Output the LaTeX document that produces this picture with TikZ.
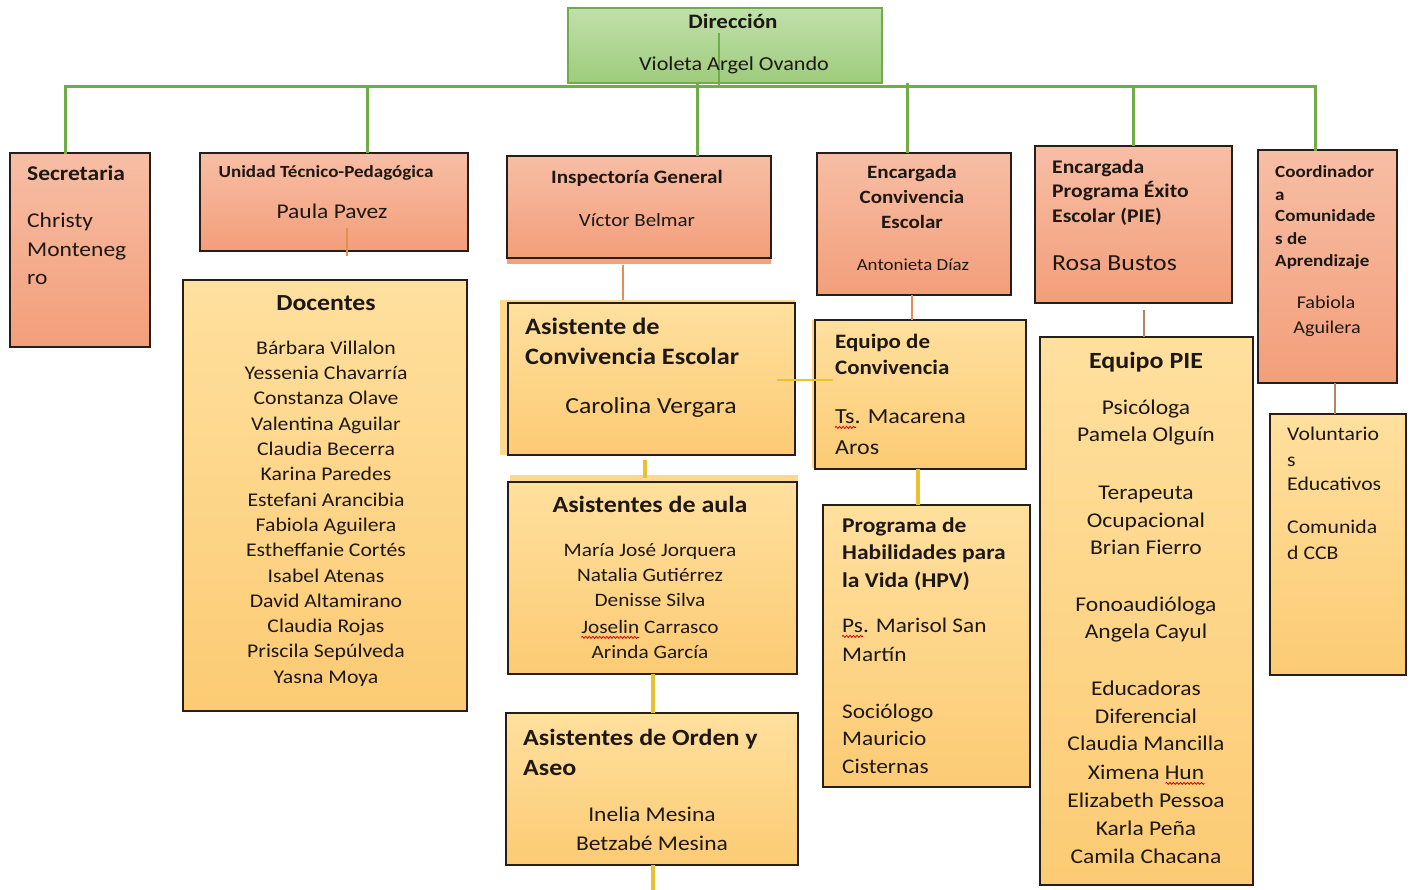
\documentclass[tikz,border=0pt]{standalone}
\usepackage{fontspec}
\setmainfont{Carlito}[FakeStretch=1.12]
\usetikzlibrary{calc,decorations.pathmorphing}

\newcommand\fs[1]{\fontsize{#1}{#1}\selectfont}

\definecolor{busgreen}{RGB}{112,173,71}
\definecolor{dirtop}{RGB}{192,224,170}
\definecolor{dirbot}{RGB}{158,204,124}
\definecolor{saltop}{RGB}{247,190,165}
\definecolor{salbot}{RGB}{243,158,122}
\definecolor{yeltop}{RGB}{255,224,158}
\definecolor{yelbot}{RGB}{252,203,116}
\definecolor{edge}{RGB}{40,30,25}
\definecolor{orangeline}{RGB}{226,142,82}
\definecolor{brownline}{RGB}{182,132,100}
\definecolor{goldline}{RGB}{234,194,45}
\definecolor{ink}{RGB}{30,24,20}

\begin{document}
\begin{tikzpicture}[x=1pt,y=-1pt,
  box/.style={draw=edge, line width=1.7pt, anchor=north west, inner sep=0pt, outer sep=0pt},
  salbox/.style={box, top color=saltop, bottom color=salbot},
  yelbox/.style={box, top color=yeltop, bottom color=yelbot},
  dirbox/.style={box, draw=busgreen, line width=1.4pt, top color=dirtop, bottom color=dirbot},
  txt/.style={inner sep=0pt, anchor=mid, text=ink, yshift=-5pt},
  txtl/.style={txt, anchor=mid west},
  busline/.style={draw=busgreen, line width=3pt},
  oline/.style={draw=orangeline, line width=2.6pt},
  bline/.style={draw=brownline, line width=2.6pt},
  gline/.style={draw=goldline, line width=3.2pt},
  spellwave/.style={draw=red!85!black, line width=0.8pt, decorate,
    decoration={snake, amplitude=1pt, segment length=3.5pt}},
  yfill/.style={fill=yeltop!60!yelbot},
  sfill/.style={fill=salbot!90!saltop}]

\fill[white] (0,0) rectangle (1411,890);
\useasboundingbox (0,0) rectangle (1411,890);

% offset fills showing behind some outlines
\fill[yfill] (500,300) rectangle (795,455);
\fill[yfill] (510,475) rectangle (798,674);
\fill[sfill] (507,156) rectangle (771,264);
\fill[yfill] (812,320) rectangle (1026,468);

% top level
\node[dirbox, minimum width=314, minimum height=75] (dir) at (568,8) {};

% second level
\node[salbox, minimum width=140, minimum height=194] (sec) at (10,153) {};
\node[salbox, minimum width=268, minimum height=98] (utp) at (200,153) {};
\node[salbox, minimum width=264, minimum height=102] (insp) at (507,156) {};
\node[salbox, minimum width=194, minimum height=142] (encconv) at (817,153) {};
\node[salbox, minimum width=197, minimum height=157] (encpie) at (1035,146) {};
\node[salbox, minimum width=139, minimum height=233] (coord) at (1258,150) {};

% teams
\node[yelbox, minimum width=284, minimum height=431] (doc) at (183,280) {};
\node[yelbox, minimum width=287, minimum height=152] (asist) at (508,303) {};
\node[yelbox, minimum width=289, minimum height=192] (aula) at (508,482) {};
\node[yelbox, minimum width=292, minimum height=152] (orden) at (506,713) {};
\node[yelbox, minimum width=211, minimum height=149] (eqconv) at (815,320) {};
\node[yelbox, minimum width=207, minimum height=282] (hpv) at (823,505) {};
\node[yelbox, minimum width=213, minimum height=548] (eqpie) at (1040,337) {};
\node[yelbox, minimum width=136, minimum height=261] (vol) at (1270,414) {};

% bus from the direction box
\coordinate (bus) at (0,87);
\path ($(sec.north west)+(55,0)$) coordinate (secT)
      ($(utp.north west)+(167,0)$) coordinate (utpT)
      ($(insp.north west)+(190,0)$) coordinate (inspT)
      ($(encconv.north west)+(90,0)$) coordinate (encconvT)
      ($(encpie.north west)+(98,0)$) coordinate (encpieT)
      ($(coord.north west)+(57,0)$) coordinate (coordT)
      ($(dir.north west)+(151,25)$) coordinate (dirC);
\draw[busline, line cap=rect] (secT) -- (secT |- bus) -- (coordT |- bus) -- (coordT);
\draw[busline] (utpT) -- (utpT |- bus);
\draw[busline] (inspT) -- (inspT |- dir.south);
\draw[busline] (encconvT) -- (encconvT |- dir.south);
\draw[busline] (encpieT) -- (encpieT |- bus);
\draw[busline, line width=1.5pt] (dirC) -- (dirC |- bus);

% links to the teams
\draw[oline] ($(utp.south west)+(147,-23)$) -- ($(utp.south west)+(147,5)$);
\draw[oline] ($(insp.south west)+(116,7)$) coordinate (i1) -- ($(i1 |- asist.north)+(0,-3)$);
\draw[oline] ($(encconv.south west)+(95,0)$) coordinate (e1) -- (e1 |- eqconv.north);
\draw[bline] ($(encpie.south west)+(109,7)$) coordinate (p1) -- (p1 |- eqpie.north);
\draw[bline] ($(coord.south west)+(77,0)$) coordinate (c1) -- (c1 |- vol.north);
\draw[gline, line width=2.6pt] ($(asist.north east)+(-18,77)$) -- ($(eqconv.north west)+(18,60)$);
\draw[gline] ($(asist.south west)+(137,5)$) coordinate (a1) -- ($(a1 |- aula.north)+(0,-4)$);
\draw[gline] ($(aula.south west)+(145,0)$) coordinate (a2) -- (a2 |- orden.north);
\coordinate (ordenOut) at (653,890);
\draw[gline] (ordenOut |- orden.south) -- (ordenOut);
\draw[gline, line width=4pt] ($(eqconv.south west)+(103,0)$) coordinate (q1) -- (q1 |- hpv.north);

% Dirección
\node[txt, font=\fs{20.5}\bfseries] (dirT) at (733,21) {Dirección};
\node[txt, font=\fs{19.8}] (dirN) at (734,63) {Violeta Argel Ovando};

% Secretaria
\node[txtl, font=\fs{21}\bfseries] (secH) at (27,173) {Secretaria};
\foreach \t/\y [count=\i] in {Christy/220, Monteneg/249, ro/277}
  \node[txtl, font=\fs{21}] (secN\i) at (27,\y) {\t};

% Unidad Técnico-Pedagógica
\node[txt, font=\fs{17}\bfseries] (utpH) at (326,170) {Unidad Técnico-Pedagógica};
\node[txt, font=\fs{21}] (utpN) at (332,211) {Paula Pavez};

% Docentes
\node[txt, font=\fs{23}\bfseries] (docH) at (326,303) {Docentes};
\foreach \t [count=\i] in {Bárbara Villalon, Yessenia Chavarría, Constanza Olave,
    Valentina Aguilar, Claudia Becerra, Karina Paredes, Estefani Arancibia,
    Fabiola Aguilera, Estheffanie Cortés, Isabel Atenas, David Altamirano,
    Claudia Rojas, Priscila Sepúlveda, Yasna Moya}
  \node[txt, font=\fs{19.4}] (docN\i) at (326,{347+(\i-1)*25.3}) {\t};

% Inspectoría General
\node[txt, font=\fs{18.9}\bfseries] (inspH) at (637,176) {Inspectoría General};
\node[txt, font=\fs{18.7}] (inspN) at (637,219) {Víctor Belmar};

% Asistente de Convivencia Escolar
\node[txtl, font=\fs{23.5}\bfseries] (asistH1) at (525,327) {Asistente de};
\node[txtl, font=\fs{23.5}\bfseries] (asistH2) at (525,357) {Convivencia Escolar};
\node[txt, font=\fs{23}] (asistN) at (651,406) {Carolina Vergara};

% Asistentes de aula
\node[txt, font=\fs{23.2}\bfseries] (aulaH) at (650,505) {Asistentes de aula};
\foreach \t/\y [count=\i] in {María José Jorquera/549, Natalia Gutiérrez/574,
    Denisse Silva/599, Joselin Carrasco/626, Arinda García/651}
  \node[txt, font=\fs{19}] (aulaN\i) at (650,\y) {\t};

% Asistentes de Orden y Aseo
\node[txtl, font=\fs{23.2}\bfseries] (ordenH1) at (523,738) {Asistentes de Orden y};
\node[txtl, font=\fs{23.2}\bfseries] (ordenH2) at (523,768) {Aseo};
\node[txt, font=\fs{21}] (ordenN1) at (652,814) {Inelia Mesina};
\node[txt, font=\fs{21}] (ordenN2) at (652,843) {Betzabé Mesina};

% Encargada Convivencia Escolar
\foreach \t/\y [count=\i] in {Encargada/171, Convivencia/196, Escolar/221}
  \node[txt, font=\fs{18.8}\bfseries] (encconvH\i) at (912,\y) {\t};
\node[txt, font=\fs{16.9}] (encconvN) at (913,263) {Antonieta Díaz};

% Equipo de Convivencia
\node[txtl, font=\fs{20.5}\bfseries] (eqconvH1) at (835,341) {Equipo de};
\node[txtl, font=\fs{20.5}\bfseries] (eqconvH2) at (835,367) {Convivencia};
\node[txtl, font=\fs{21.5}] (eqconvN1) at (835,416) {Ts. Macarena};
\node[txtl, font=\fs{21.5}] (eqconvN2) at (835,447) {Aros};

% Programa de Habilidades para la Vida
\foreach \t/\y [count=\i] in {Programa de/525, Habilidades para/552, la Vida (HPV)/580}
  \node[txtl, font=\fs{21}\bfseries] (hpvH\i) at (842,\y) {\t};
\foreach \t/\y [count=\i] in {Ps. Marisol San/625, Martín/654,
    Sociólogo/711, Mauricio/738, Cisternas/766}
  \node[txtl, font=\fs{20.8}] (hpvN\i) at (842,\y) {\t};

% Encargada Programa Éxito Escolar
\foreach \t/\y [count=\i] in {Encargada/166, Programa Éxito/190, Escolar (PIE)/215}
  \node[txtl, font=\fs{19.3}\bfseries] (encpieH\i) at (1052,\y) {\t};
\node[txtl, font=\fs{23}] (encpieN) at (1052,263) {Rosa Bustos};

% Equipo PIE
\node[txt, font=\fs{23.2}\bfseries] (eqpieH) at (1146,361) {Equipo PIE};
\foreach \t/\y [count=\i] in {Psicóloga/407, Pamela Olguín/434, Terapeuta/492,
    Ocupacional/520, Brian Fierro/547, Fonoaudióloga/604, Angela Cayul/631,
    Educadoras/688, Diferencial/716, Claudia Mancilla/743, Ximena Hun/772,
    Elizabeth Pessoa/800, Karla Peña/828, Camila Chacana/856}
  \node[txt, font=\fs{21}] (eqpieN\i) at (1146,\y) {\t};

% Coordinadora Comunidades de Aprendizaje
\foreach \t/\y [count=\i] in {Coordinador/170, a/193, Comunidade/214, s de/237, Aprendizaje/259}
  \node[txtl, font=\fs{17}\bfseries] (coordH\i) at (1275,\y) {\t};
\node[txt, font=\fs{18}] (coordN1) at (1326,301) {Fabiola};
\node[txt, font=\fs{18}] (coordN2) at (1327,326) {Aguilera};

% Voluntarios Educativos
\foreach \t/\y [count=\i] in {Voluntario/433, s/459, Educativos/483, Comunida/526, d CCB/552}
  \node[txtl, font=\fs{19.4}] (volN\i) at (1287,\y) {\t};

% spell-check squiggles under unknown words
\draw[spellwave] ($(eqconvN1.base west)+(0,4)$) -- ++(21,0);
\draw[spellwave] ($(hpvN1.base west)+(0,4)$) -- ++(21,0);
\draw[spellwave] ($(aulaN4.base west)+(0,4)$) -- ++(58,0);
\draw[spellwave] ($(eqpieN11.base east)+(-39,4)$) -- ++(39,0);

\end{tikzpicture}
\end{document}
